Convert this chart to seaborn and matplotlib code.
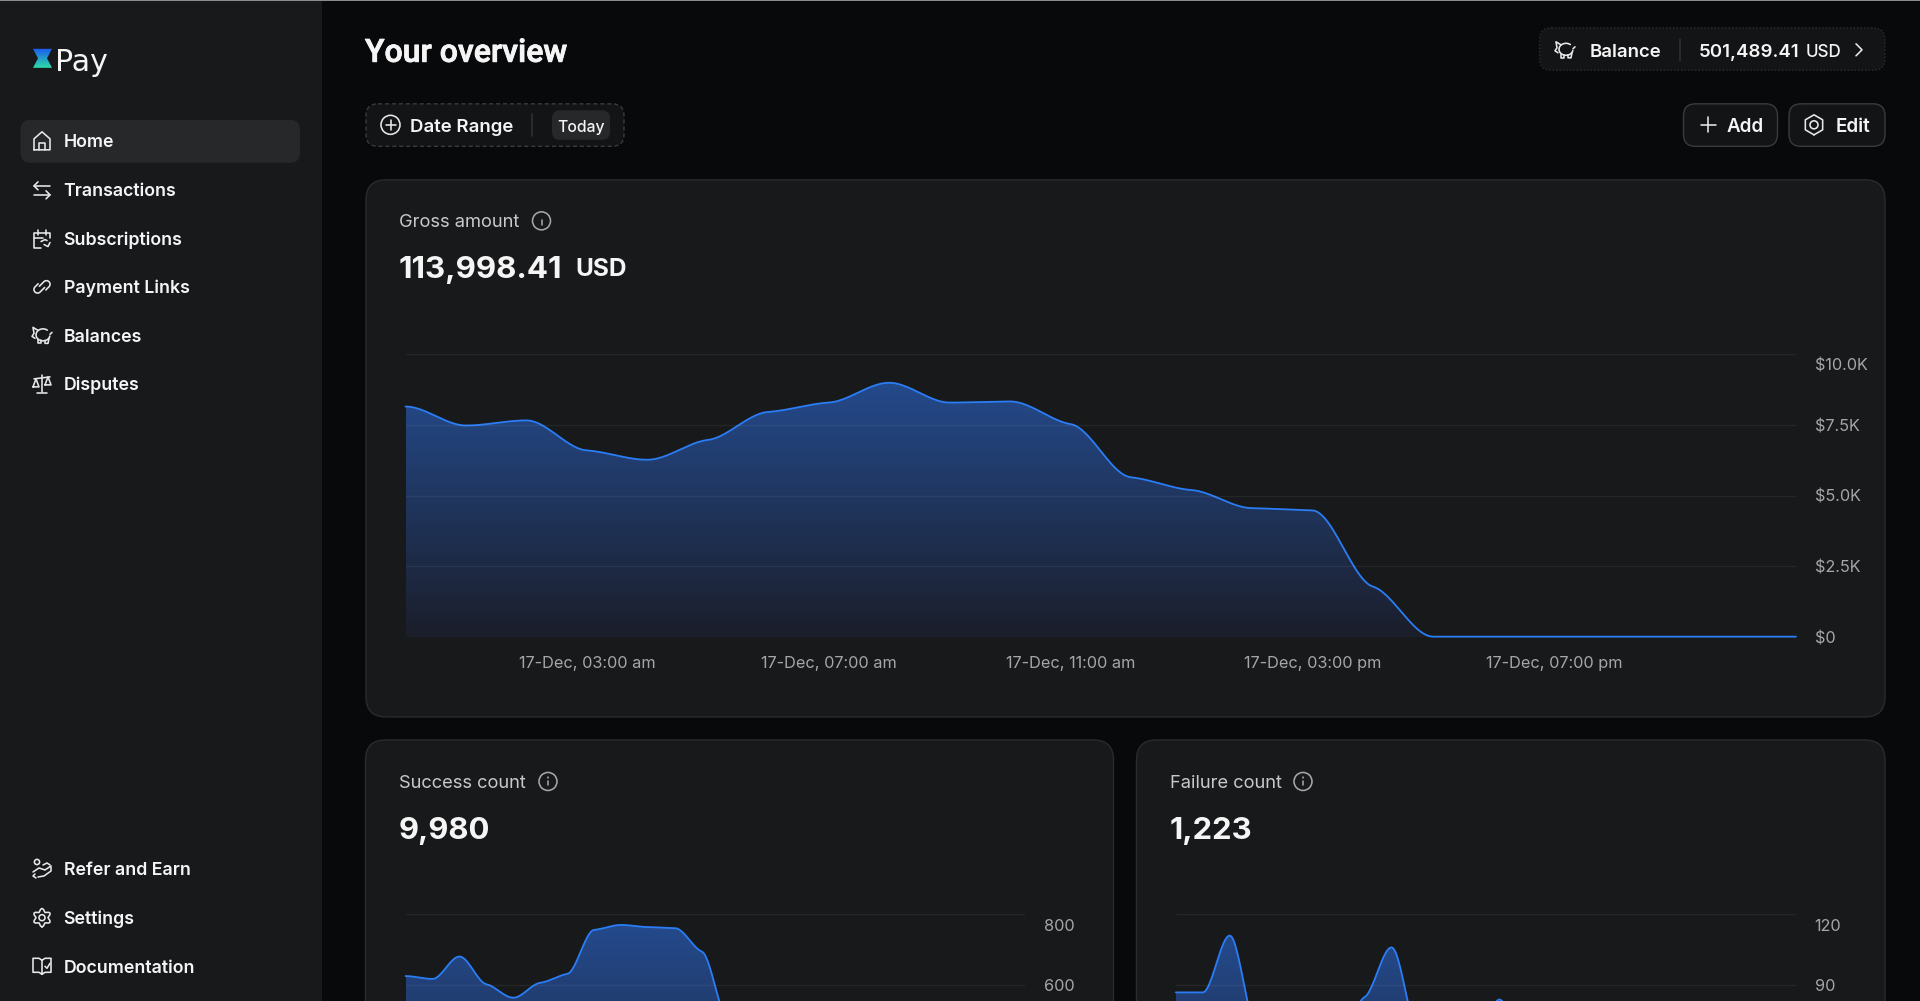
import numpy as np
import pandas as pd
import matplotlib
matplotlib.use('Agg')
import matplotlib.pyplot as plt
import matplotlib.patheffects as pe
import seaborn as sns
from matplotlib.patches import FancyBboxPatch, Circle, Polygon
from matplotlib.transforms import ScaledTranslation

# values, one per hour of the day
hours = list(range(24))
gross_values = [8150, 7480, 7660, 6600, 6270, 6970, 7960, 8290, 8990, 8290, 8330, 7530,
                5650, 5200, 4560, 4480, 1790, 20, 20, 20, 20, 20, 20, 20]
success_values = [626, 618, 681, 603, 565, 607, 632, 756, 770, 764, 761, 695,
                  500, 470, 440, 400, 90, 2, 2, 2, 2, 2, 2, 2]
failure_values = [87, 87, 111, 72, 62, 60, 66, 85, 106, 70, 60, 60,
                  84, 60, 58, 56, 40, 0, 0, 0, 0, 0, 0, 0]

gross_ticks = [0, 2500, 5000, 7500, 10000]
gross_tick_labels = ['$0', '$2.5K', '$5.0K', '$7.5K', '$10.0K']
success_ticks = [600, 800]
failure_ticks = [90, 120]
time_ticks = [3, 7, 11, 15, 19]
time_labels = ['17-Dec, 03:00 am', '17-Dec, 07:00 am', '17-Dec, 11:00 am',
               '17-Dec, 03:00 pm', '17-Dec, 07:00 pm']
nav_top = ['Home', 'Transactions', 'Subscriptions', 'Payment Links', 'Balances', 'Disputes']
nav_top_y = [141, 190, 238.7, 287, 335.5, 384]
nav_bottom = ['Refer and Earn', 'Settings', 'Documentation']
nav_bottom_y = [869, 917.7, 966.3]

W, H = 1920, 1001
PAGE = '#08090b'
PANEL = '#18191b'
EDGE = '#2a2b2d'
LINE = '#2a7df5'
WHITE = '#f5f5f5'
MUTED = '#a6a6a8'

sns.set_theme(style='dark')
plt.rcParams['font.family'] = ['Inter', 'DejaVu Sans']

fig = plt.figure(figsize=(W / 100, (H + 0.2) / 100), dpi=100, facecolor=PAGE)
bg = fig.add_axes([0, 0, 1, 1], zorder=0)
bg.set_xlim(0, W)
bg.set_ylim(H, 0)
bg.axis('off')
bg.set_autoscale_on(False)


def box(x0, y0, x1, y1, r, fc, ec='none', lw=1.0, ls='-'):
    bg.add_patch(FancyBboxPatch((x0, y0), x1 - x0, y1 - y0, boxstyle=f'round,pad=0,rounding_size={r}',
                                fc=fc, ec=ec, lw=lw, ls=ls))


def label(x, y, s, px, color=WHITE, weight=400, ha='left', family=None):
    return bg.text(x, y, s, fontsize=px * 0.72, color=color, fontweight=weight, ha=ha, va='center_baseline',
                   family=family)


def stroke(pts, color='#e8e8e8', lw=1.15):
    xs, ys = zip(*pts)
    bg.plot(xs, ys, color=color, lw=lw, solid_capstyle='round', solid_joinstyle='round')


def ring(x, y, r, color='#e8e8e8', lw=1.15):
    bg.add_patch(Circle((x, y), r, fc='none', ec=color, lw=lw))


def icon_home(x, y):
    stroke([(x - 8, y + 9), (x - 8, y - 2), (x, y - 9), (x + 8, y - 2), (x + 8, y + 9), (x - 8, y + 9)])
    stroke([(x - 3, y + 9), (x - 3, y + 2), (x + 3, y + 2), (x + 3, y + 9)])


def icon_swap(x, y):
    stroke([(x - 4, y - 8), (x - 8, y - 4), (x - 4, y)])
    stroke([(x - 8, y - 4), (x + 8, y - 4)])
    stroke([(x + 4, y + 1), (x + 8, y + 5), (x + 4, y + 9)])
    stroke([(x - 8, y + 5), (x + 8, y + 5)])


def icon_calendar(x, y):
    stroke([(x + 8, y - 1), (x + 8, y - 6), (x - 8, y - 6), (x - 8, y + 9), (x - 1, y + 9)])
    stroke([(x - 4, y - 9), (x - 4, y - 4)])
    stroke([(x + 4, y - 9), (x + 4, y - 4)])
    stroke([(x - 8, y - 1), (x + 1, y - 1)])
    stroke([(x + 2, y + 6), (x + 6, y + 8), (x + 8, y + 4)])
    stroke([(x - 1, y + 3), (x + 3, y + 1), (x + 5, y + 2)])


def icon_link(x, y):
    # two chain loops shifted sideways so they hook into each other
    t = np.linspace(-np.pi / 2, np.pi / 2, 14)
    ang = -np.pi / 4
    c, s = np.cos(ang), np.sin(ang)
    for sign in (1, -1):
        px = [-1.5 * sign] + [sign * (5 + 3.6 * np.cos(i)) for i in t] + [sign * 0.5]
        py = [sign * (1.3 - 3.6)] + [sign * (1.3 + 3.6 * np.sin(i)) for i in t] + [sign * (1.3 + 3.6)]
        stroke([(x + p * c - q * s, y + p * s + q * c) for p, q in zip(px, py)])


def icon_piggy(x, y):
    t = np.linspace(0.2, 2 * np.pi - 0.9, 30)
    stroke([(x + 1 + 7 * np.cos(i), y - 0.5 + 6 * np.sin(i)) for i in t])
    stroke([(x - 4, y - 5), (x - 9, y - 8), (x - 8, y - 2), (x - 10, y + 1), (x - 7, y + 3)])
    stroke([(x - 4, y + 4), (x - 4, y + 8), (x - 1, y + 8), (x - 1, y + 5)])
    stroke([(x + 3, y + 5), (x + 3, y + 8), (x + 6, y + 8), (x + 7, y + 3)])
    stroke([(x + 8, y - 1), (x + 10, y - 3)])


def icon_scale(x, y):
    stroke([(x, y - 9), (x, y + 8)])
    stroke([(x - 5, y + 9), (x + 5, y + 9)])
    stroke([(x - 8, y - 5), (x + 8, y - 7)])
    stroke([(x - 9, y + 3), (x - 6, y - 5), (x - 3, y + 3), (x - 9, y + 3)])
    stroke([(x + 3, y + 1), (x + 6, y - 7), (x + 9, y + 1), (x + 3, y + 1)])


def icon_refer(x, y):
    ring(x - 5, y - 7, 2.6)
    stroke([(x - 9, y + 3), (x - 3, y - 1), (x + 3, y + 1), (x + 9, y - 3), (x + 9, y + 2), (x + 2, y + 7), (x - 4, y + 8)])
    stroke([(x - 7, y + 5), (x - 9, y + 7), (x - 6, y + 9)])
    stroke([(x + 1, y - 4), (x + 5, y - 6), (x + 8, y - 4)])


def icon_gear(x, y):
    ang = np.linspace(0, 2 * np.pi, 37)
    rad = 7.6 + 1.6 * np.cos(6 * ang)
    stroke([(x + r * np.sin(a), y + r * np.cos(a)) for a, r in zip(ang, rad)])
    ring(x, y, 3)


def icon_book(x, y):
    stroke([(x, y - 6), (x - 3, y - 8), (x - 9, y - 8), (x - 9, y + 6), (x - 3, y + 6), (x, y + 8), (x + 3, y + 6), (x + 9, y + 6), (x + 9, y - 8), (x + 3, y - 8), (x, y - 6), (x, y + 8)])
    stroke([(x + 3, y), (x + 5, y + 2), (x + 8, y - 3)])


def icon_hex(x, y):
    ang = np.arange(7) * np.pi / 3
    stroke([(x + 10 * np.sin(a), y + 10 * np.cos(a)) for a in ang])
    ring(x, y, 4)


def icon_plus(x, y, r):
    stroke([(x - r, y), (x + r, y)])
    stroke([(x, y - r), (x, y + r)])


def icon_info(x, y):
    ring(x, y, 9, color=MUTED)
    stroke([(x, y - 0.5), (x, y + 4)], color=MUTED)
    stroke([(x, y - 4), (x, y - 3.7)], color=MUTED)


def monotone(xs, ys, per_step=24):
    # hourly points joined the way the dashboard does it, nearly flat at every point
    xs = np.asarray(xs, float)
    ys = np.asarray(ys, float)
    s = np.diff(ys) / np.diff(xs)
    m = np.zeros_like(ys)
    same = s[:-1] * s[1:] > 0
    m[1:-1][same] = 0.3 * 2 * s[:-1][same] * s[1:][same] / (s[:-1][same] + s[1:][same])
    t = np.linspace(0, 1, per_step, endpoint=False)[None, :]
    a, b = ys[:-1, None], ys[1:, None]
    ma, mb = m[:-1, None], m[1:, None]
    yy = (2*t**3 - 3*t**2 + 1)*a + (t**3 - 2*t**2 + t)*ma + (3*t**2 - 2*t**3)*b + (t**3 - t**2)*mb
    xx = xs[:-1, None] + t
    return np.append(xx.ravel(), xs[-1]), np.append(yy.ravel(), ys[-1])


def area_chart(left, right, top, bottom, values, ymax, ticks, tick_labels=None):
    ax = fig.add_axes([left / W, 1 - bottom / H, (right - left) / W, (bottom - top) / H], zorder=2)
    ax.patch.set_alpha(0)
    dx, dy = monotone(hours, values)
    curve = pd.DataFrame({'hour': dx, 'value': dy})

    top_col = np.array([36, 74, 140]) / 255
    low_col = np.array([27, 30, 42]) / 255
    mix = np.linspace(0, 1, 256)[:, None, None]
    grad = low_col[None, None, :] * (1 - mix) + top_col[None, None, :] * mix
    im = ax.imshow(grad, extent=(0, 23, 0, max(values)), origin='lower', aspect='auto', zorder=0)
    shape = ax.fill_between(dx, dy, 0, color='none')
    im.set_clip_path(shape.get_paths()[0], transform=ax.transData)

    sns.lineplot(data=curve, x='hour', y='value', ax=ax, color=LINE, lw=1.3, estimator=None, errorbar=None)
    ax.lines[-1].set_clip_on(False)

    ax.set_xlim(0, 23)
    ax.set_ylim(0, ymax)
    ax.set_xlabel('')
    ax.set_ylabel('')
    ax.set_yticks(ticks)
    ax.set_yticklabels(tick_labels if tick_labels else [str(v) for v in ticks])
    ax.yaxis.tick_right()
    ax.set_xticks([])
    ax.tick_params(axis='both', length=0, labelsize=16.3 * 0.72, labelcolor=MUTED, pad=13.4)
    ax.grid(axis='y', color='white', alpha=0.06, lw=1)
    ax.grid(axis='x', visible=False)
    ax.set_axisbelow(False)
    for sp in ax.spines.values():
        sp.set_visible(False)
    # the top label of each chart sits below its gridline
    top_label = ax.get_yticklabels()[-1]
    top_label.set_transform(top_label.get_transform() + ScaledTranslation(0, -10.4 / 100, fig.dpi_scale_trans))
    return ax


# page furniture
bg.add_patch(plt.Rectangle((0, 0), 322, H, fc=PANEL, ec='none'))
bg.add_patch(plt.Rectangle((0, 0), W, 1.5, fc='#8c8c8c', ec='none', zorder=5))

# logo
logo_shape = Polygon([(33, 49), (52, 49), (47, 58.5), (52, 68), (33, 68), (38, 58.5)], fc='none', ec='none')
bg.add_patch(logo_shape)
logo_mix = np.linspace(0, 1, 32)[:, None, None]
logo_grad = np.array([27, 90, 240])[None, None, :] / 255 * (1 - logo_mix) + np.array([45, 220, 170])[None, None, :] / 255 * logo_mix
logo_im = bg.imshow(logo_grad, extent=(33, 52, 68, 49), origin='upper', aspect='auto', zorder=3)
logo_im.set_clip_path(logo_shape)
bg.set_xlim(0, W)
bg.set_ylim(H, 0)
label(54.5, 59, 'Pay', 30, WHITE, 400, family='DejaVu Sans')

# sidebar
box(20.5, 120, 300, 163, 10, '#27282a')
for name, y, icon in zip(nav_top, nav_top_y, [icon_home, icon_swap, icon_calendar, icon_link, icon_piggy, icon_scale]):
    icon(42, y)
    label(63.5, y - 0.4, name, 17.75, WHITE, 600)
for name, y, icon in zip(nav_bottom, nav_bottom_y, [icon_refer, icon_gear, icon_book]):
    icon(42, y)
    label(63.5, y - 0.4, name, 17.75, WHITE, 600)

# header
title = label(365, 50.5, 'Your overview', 32, WHITE, 500, family='Roboto')
title.set_path_effects([pe.withStroke(linewidth=0.6, foreground=WHITE)])

box(1539.5, 28, 1885, 70.5, 12, '#131416', '#2c2d2f', 1.0, (0, (1, 1.5)))
icon_piggy(1565, 50)
label(1589.5, 50, 'Balance', 18.6, WHITE, 600)
stroke([(1679.5, 39), (1679.5, 61)], color='#303133')
label(1698.5, 50, '501,489.41', 18.7, WHITE, 600)
label(1806, 50.5, 'USD', 17, WHITE, 500)
stroke([(1856, 44), (1862, 50), (1856, 56)])

box(366, 104, 624, 146.5, 12, '#131416', '#3a3b3d', 1.0, (0, (3, 2)))
ring(390.5, 125, 9.5)
icon_plus(390.5, 125, 5)
label(410.5, 125, 'Date Range', 18.6, WHITE, 600)
stroke([(532, 114.5), (532, 136)], color='#303133')
box(552, 110.5, 610, 140, 8, '#27282a')
label(581, 125.5, 'Today', 15.7, WHITE, 500, ha='center')

box(1683.5, 104, 1777.5, 146.5, 12, '#131416', '#3a3b3d')
icon_plus(1708, 125, 7.5)
label(1727, 125, 'Add', 18.8, WHITE, 600)
box(1789, 104, 1885, 146.5, 12, '#131416', '#3a3b3d')
icon_hex(1814, 125)
label(1835.5, 125, 'Edit', 18.8, WHITE, 600)

# cards
box(366, 180, 1885, 717, 20, PANEL, EDGE)
box(365.5, 740, 1113.5, 1040, 20, PANEL, EDGE)
box(1136.5, 740, 1885, 1040, 20, PANEL, EDGE)

label(399, 220.5, 'Gross amount', 18.3, '#c9c9cb')
icon_info(541.5, 221)
label(399, 267, '113,998.41', 31.3, WHITE, 700)
label(575, 267, 'USD', 24.5, WHITE, 700)

label(399, 781, 'Success count', 18.3, '#c9c9cb')
icon_info(548, 781.5)
label(399, 828, '9,980', 31, WHITE, 700)

label(1169.5, 781, 'Failure count', 18.3, '#c9c9cb')
icon_info(1303, 781.5)
label(1169.5, 828, '1,223', 31, WHITE, 700)

# charts
gross_ax = area_chart(405.5, 1796, 354.3, 637.3, gross_values, 10000, gross_ticks, gross_tick_labels)
gross_ax.set_xticks(time_ticks)
gross_ax.set_xticklabels(time_labels)
gross_ax.tick_params(axis='x', labelsize=16.3 * 0.72, labelcolor=MUTED, pad=13.5, length=0)

area_chart(405.6, 1025, 914.3, 1198.3, success_values, 800, success_ticks)
area_chart(1175.8, 1796, 914.3, 1198.3, failure_values, 120, failure_ticks)

fig.savefig('out.png', dpi=100, facecolor=PAGE)
